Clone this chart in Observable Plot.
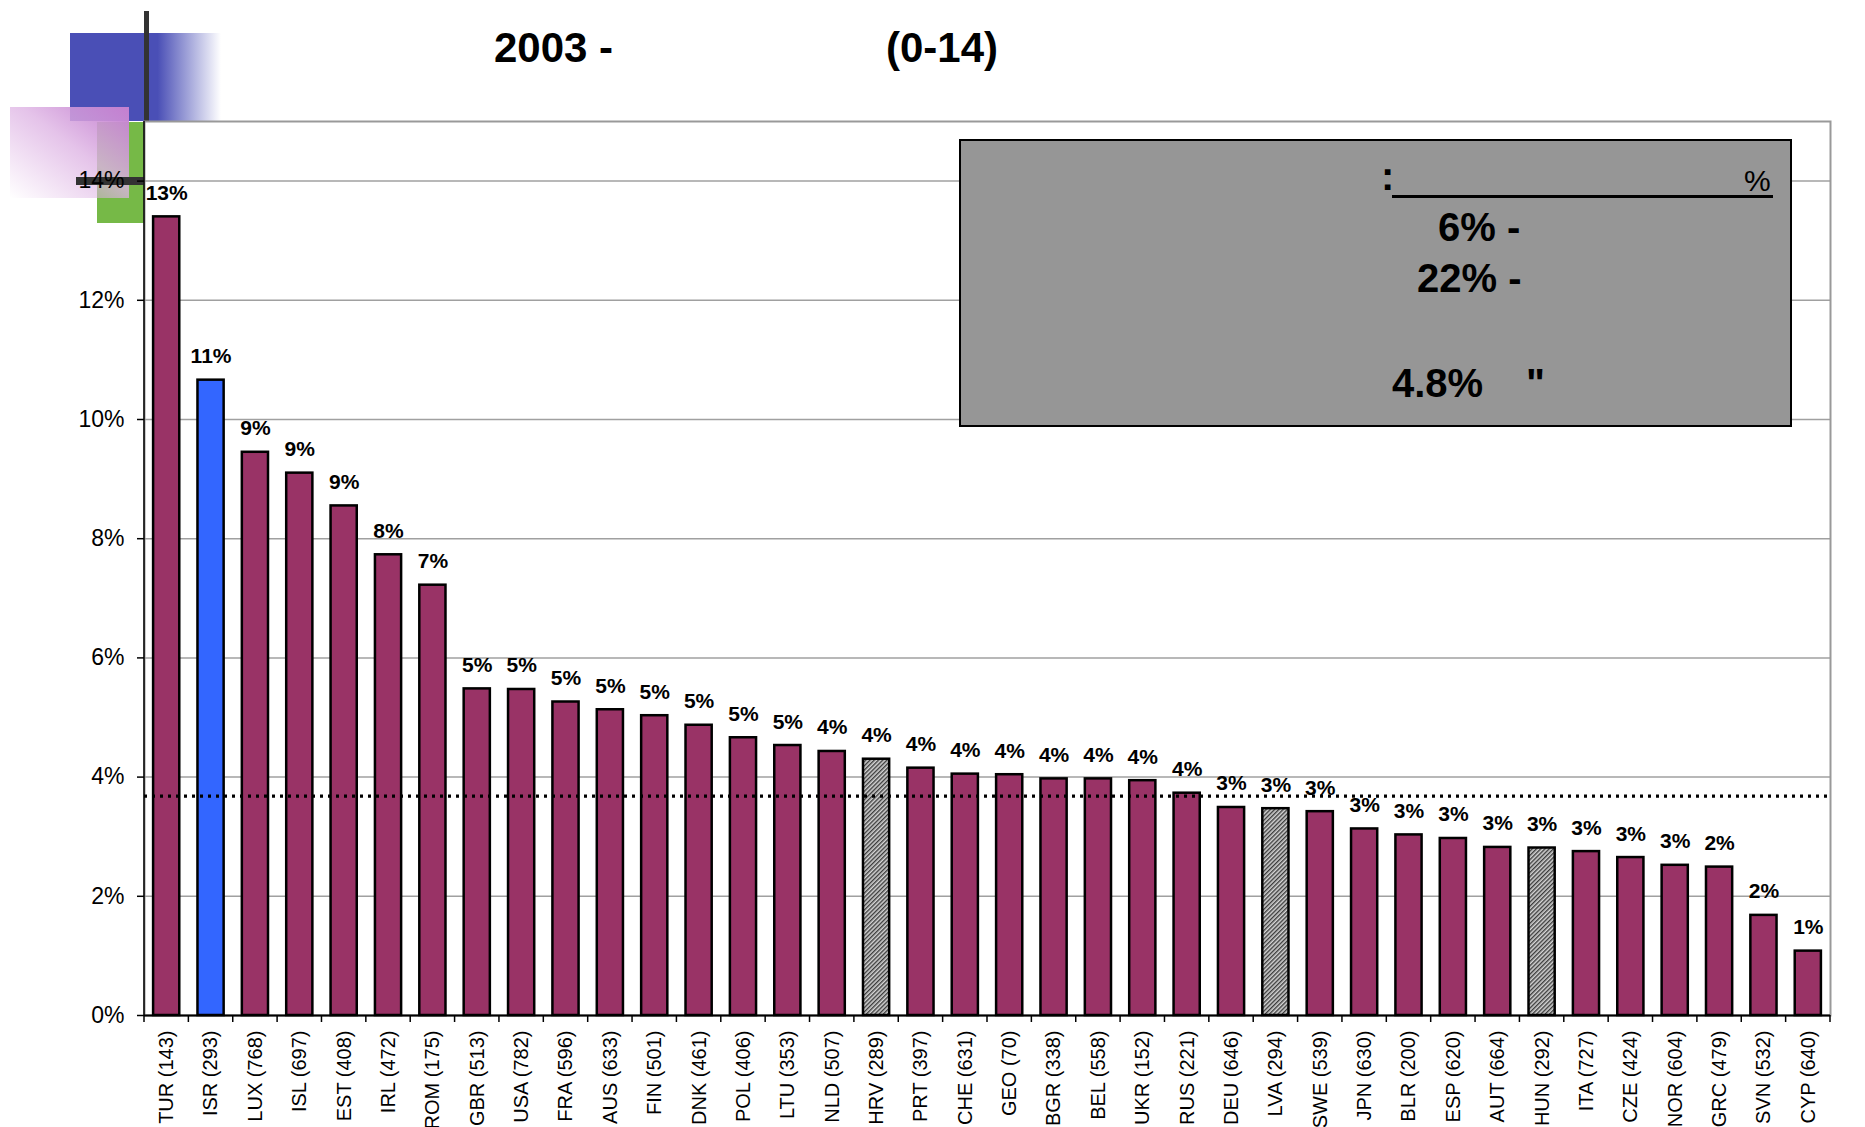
<!DOCTYPE html>
<html>
<head>
<meta charset="utf-8">
<script src="https://cdn.jsdelivr.net/npm/d3@7"></script>
<script src="https://cdn.jsdelivr.net/npm/@observablehq/plot@0.6"></script>
<style>
  html, body { margin: 0; padding: 0; background: #fff; }
  body { width: 1865px; height: 1127px; overflow: hidden; font-family: "Liberation Sans", Arial, sans-serif; }
  #page { position: relative; width: 1865px; height: 1127px; }
  .abs { position: absolute; white-space: pre; line-height: 1; color: #000; }
  #chart { position: absolute; left: 0; top: 0; }
</style>
</head>
<body>
<div id="page">
  <!-- slide template decorations -->
  <div class="abs" style="left:70px;top:33px;width:151px;height:88px;background:linear-gradient(to right,#4a4fb6 0%,#4a4fb6 58%,rgba(74,79,182,0) 100%);"></div>
  <div class="abs" style="left:97px;top:122px;width:47px;height:101px;background:#76b947;"></div>
  <div class="abs" style="left:10px;top:107px;width:119px;height:91px;background:linear-gradient(to top right,rgba(255,255,255,0) 0%,rgba(222,180,228,0.8) 55%,#c47fd0 100%);"></div>
  <div class="abs" style="left:76px;top:177px;width:68px;height:8px;background:#333;"></div>
  <div class="abs" style="left:144px;top:11px;width:5px;height:111px;background:#333;"></div>
  <div id="chart"></div>

  <!-- title -->
  <div class="abs" style="left:494px;top:27px;font-size:42px;font-weight:bold;">2003 -</div>
  <div class="abs" style="left:886px;top:27px;font-size:42px;font-weight:bold;">(0-14)</div>

  <!-- annotation box -->
  <div class="abs" style="left:959px;top:139px;width:829px;height:284px;background:#969696;border:2px solid #000;"></div>
  <div class="abs" style="left:1381px;top:156px;font-size:40px;font-weight:bold;">:</div>
  <div class="abs" style="left:1392px;top:195px;width:381px;height:3px;background:#000;"></div>
  <div class="abs" style="left:1744px;top:166px;font-size:30px;">%</div>
  <div class="abs" style="left:1438px;top:207px;font-size:40px;font-weight:bold;">6% -</div>
  <div class="abs" style="left:1417px;top:258px;font-size:40px;font-weight:bold;">22% -</div>
  <div class="abs" style="left:1392px;top:363px;font-size:40px;font-weight:bold;">4.8%</div>
  <div class="abs" style="left:1526px;top:363px;font-size:40px;font-weight:bold;">"</div>
</div>
<script>
// ---- data ----
const countries = ["TUR","ISR","LUX","ISL","EST","IRL","ROM","GBR","USA","FRA","AUS","FIN","DNK","POL","LTU","NLD","HRV","PRT","CHE","GEO","BGR","BEL","UKR","RUS","DEU","LVA","SWE","JPN","BLR","ESP","AUT","HUN","ITA","CZE","NOR","GRC","SVN","CYP"];
const sampleSizes = [143,293,768,697,408,472,175,513,782,596,633,501,461,406,353,507,289,397,631,70,338,558,152,221,646,294,539,630,200,620,664,292,727,424,604,479,532,640];
const shares = [13.40,10.66,9.45,9.10,8.55,7.73,7.22,5.48,5.47,5.26,5.13,5.03,4.87,4.66,4.53,4.43,4.30,4.15,4.05,4.04,3.97,3.97,3.94,3.73,3.49,3.47,3.42,3.13,3.03,2.97,2.82,2.81,2.75,2.65,2.52,2.49,1.68,1.08];
const kinds = ["base","israel","base","base","base","base","base","base","base","base","base","base","base","base","base","base","hatched","base","base","base","base","base","base","base","base","hatched","base","base","base","base","base","hatched","base","base","base","base","base","base"];
const yTicks = [0,2,4,6,8,10,12,14];
const averageShare = 3.68;

const data = countries.map((c, i) => ({label: `${c} (${sampleSizes[i]})`, value: shares[i], kind: kinds[i]}));
const labels = data.map(d => d.label);

const plot = Plot.plot({
  width: 1865,
  height: 1127,
  marginTop: 121,
  marginBottom: 112,
  marginLeft: 144,
  marginRight: 35,
  style: {fontFamily: "'Liberation Sans', Arial, sans-serif", color: "#000", background: "transparent", overflow: "visible"},
  x: {domain: labels, paddingInner: 0.41, paddingOuter: 0.205, round: false, axis: null, label: null},
  y: {domain: [0, 15], axis: null, label: null},
  color: {domain: ["base","israel","hatched"], range: ["#993366","#3366ff","url(#hatch)"]},
  marks: [
    Plot.gridY(yTicks, {stroke: "#a0a0a0", strokeOpacity: 1, strokeWidth: 1.5}),
    Plot.frame({stroke: "#999", strokeWidth: 2}),
    Plot.barY(data, {x: "label", y: "value", fill: "kind", stroke: "#000", strokeWidth: 2.5}),
    Plot.ruleY([0], {stroke: "#000", strokeWidth: 2}),
    Plot.ruleY([averageShare], {stroke: "#000", strokeWidth: 3.2, strokeDasharray: "3,5", ariaLabel: "average"}),
    Plot.text(data, {x: "label", y: "value", text: d => Math.round(d.value) + "%", lineAnchor: "bottom", dy: -17, fontWeight: "bold", fontSize: 21, fill: "#000"}),
    Plot.axisY(yTicks, {tickSize: 7, tickPadding: 13, tickFormat: d => d + "%", fontSize: 23, stroke: "#000", strokeWidth: 1.5, fill: "#000", label: null}),
    Plot.axisX({tickSize: 0, tickPadding: 15, tickRotate: -90, fontSize: 20, fill: "#000", label: null})
  ]
});

// hatch pattern for the grey bars
const svg = d3.select(plot);
const defs = svg.insert("defs", ":first-child");
const pat = defs.append("pattern").attr("id", "hatch").attr("patternUnits", "userSpaceOnUse")
  .attr("width", 3).attr("height", 3).attr("patternTransform", "rotate(45)");
pat.append("rect").attr("width", 3).attr("height", 3).attr("fill", "#d4d4d4");
pat.append("rect").attr("width", 1.4).attr("height", 3).attr("fill", "#3c3c3c");

// band-boundary ticks and left axis line from the x scale
const xs = plot.scale("x");
const [x0, x1] = xs.range;
const stepPx = (x1 - x0) / labels.length;
const ys = plot.scale("y");
const yZero = ys.apply(0);
const g = svg.append("g");
for (let k = 0; k <= labels.length; k++) {
  g.append("line").attr("x1", x0 + k * stepPx).attr("x2", x0 + k * stepPx)
    .attr("y1", yZero).attr("y2", yZero + 7).attr("stroke", "#000").attr("stroke-width", 1.5);
}
g.append("line").attr("x1", x0).attr("x2", x0).attr("y1", ys.apply(15)).attr("y2", yZero)
  .attr("stroke", "#000").attr("stroke-width", 1.5);

// extend the dotted average line beyond the frame, as in the original
svg.select('g[aria-label="average"] line').attr("x1", x0 - 35).attr("x2", 1865);

document.getElementById("chart").appendChild(plot);
</script>
</body>
</html>
